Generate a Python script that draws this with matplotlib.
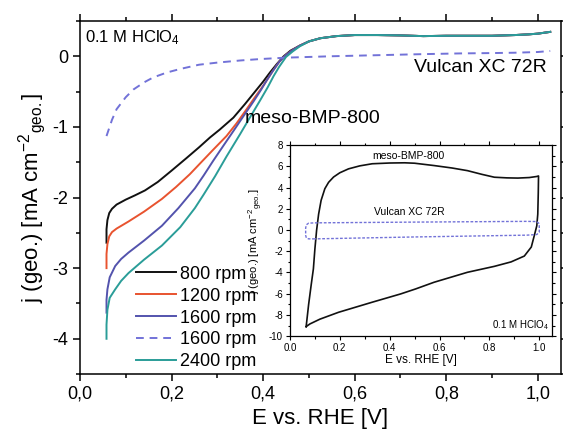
import matplotlib
matplotlib.use("Agg")
import matplotlib.pyplot as plt
from matplotlib.ticker import MultipleLocator, FuncFormatter

plt.rcParams['font.family'] = ['Liberation Sans', 'DejaVu Sans']
plt.rcParams['mathtext.fontset'] = 'custom'
plt.rcParams['mathtext.rm'] = 'Liberation Sans'
plt.rcParams['mathtext.it'] = 'Liberation Sans:italic'
plt.rcParams['axes.unicode_minus'] = False

# ---------------- data (main LSV curves) ----------------
plateau_E = [0.50, 0.525, 0.56, 0.60, 0.65, 0.70, 0.75, 0.80, 0.85, 0.90, 0.95, 0.98, 1.00, 1.027]
plateau_j = [0.21, 0.255, 0.285, 0.30, 0.30, 0.295, 0.285, 0.29, 0.29, 0.29, 0.30, 0.31, 0.32, 0.345]

E_800 = [0.058, 0.058, 0.060, 0.064, 0.070, 0.08, 0.10, 0.12, 0.142, 0.17, 0.20, 0.233, 0.26, 0.284,
         0.305, 0.335, 0.36, 0.38, 0.40, 0.415, 0.43, 0.445, 0.46, 0.48] + plateau_E
j_800 = [-2.64, -2.45, -2.32, -2.22, -2.16, -2.10, -2.03, -1.97, -1.90, -1.78, -1.62, -1.44, -1.29, -1.15,
         -1.04, -0.87, -0.68, -0.52, -0.36, -0.23, -0.11, 0.0, 0.08, 0.15] + plateau_j

E_1200 = [0.058, 0.058, 0.060, 0.064, 0.070, 0.08, 0.106, 0.14, 0.179, 0.21, 0.24, 0.262, 0.29, 0.32,
          0.342, 0.364, 0.38, 0.40, 0.42, 0.435, 0.45, 0.465, 0.48] + plateau_E
j_1200 = [-3.00, -2.80, -2.66, -2.55, -2.49, -2.44, -2.34, -2.20, -2.02, -1.85, -1.67, -1.52, -1.33, -1.13,
          -0.95, -0.75, -0.60, -0.42, -0.22, -0.08, 0.02, 0.09, 0.15] + plateau_j

E_1600 = [0.058, 0.058, 0.060, 0.065, 0.077, 0.09, 0.106, 0.14, 0.179, 0.215, 0.251, 0.27, 0.291, 0.315,
          0.335, 0.36, 0.379, 0.395, 0.408, 0.42, 0.435, 0.45, 0.465, 0.48] + plateau_E
j_1600 = [-3.63, -3.45, -3.30, -3.13, -2.97, -2.87, -2.78, -2.61, -2.40, -2.15, -1.87, -1.69, -1.48, -1.25,
          -1.06, -0.82, -0.64, -0.48, -0.34, -0.22, -0.08, 0.02, 0.09, 0.15] + plateau_j

E_2400 = [0.058, 0.058, 0.060, 0.065, 0.077, 0.09, 0.106, 0.14, 0.179, 0.219, 0.251, 0.27, 0.295, 0.32,
          0.35, 0.37, 0.393, 0.41, 0.423, 0.435, 0.45, 0.465, 0.48] + plateau_E
j_2400 = [-4.00, -3.80, -3.59, -3.42, -3.30, -3.18, -3.07, -2.88, -2.68, -2.42, -2.15, -1.96, -1.70, -1.42,
          -1.10, -0.88, -0.63, -0.44, -0.28, -0.15, -0.01, 0.07, 0.14] + plateau_j

E_vulcan = [0.058, 0.07, 0.08, 0.10, 0.117, 0.14, 0.16, 0.19, 0.219, 0.26, 0.30, 0.35, 0.393, 0.45,
            0.55, 0.65, 0.75, 0.83, 0.90, 0.95, 1.0, 1.027]
j_vulcan = [-1.13, -0.90, -0.75, -0.58, -0.47, -0.37, -0.30, -0.23, -0.18, -0.12, -0.09, -0.06, -0.04, -0.02,
            0.0, 0.015, 0.03, 0.04, 0.045, 0.05, 0.06, 0.075]

labels = ["800 rpm", "1200 rpm", "1600 rpm", "1600 rpm", "2400 rpm"]

# ---------------- data (inset CVs) ----------------
cv_meso_E = [0.065, 0.075, 0.085, 0.094, 0.10, 0.107, 0.115, 0.125, 0.14, 0.155, 0.175, 0.20, 0.235, 0.28, 0.33,
             0.40, 0.46, 0.50, 0.578, 0.65, 0.712, 0.77, 0.82, 0.87, 0.914, 0.96, 0.99, 0.997,
             0.996, 0.994, 0.99, 0.98, 0.968, 0.94, 0.887, 0.82, 0.712, 0.578, 0.504, 0.444, 0.33,
             0.195, 0.12, 0.08, 0.065]
cv_meso_j = [-9.1, -7.0, -5.2, -3.66, -1.8, 0.0, 1.5, 2.8, 3.9, 4.5, 5.0, 5.4, 5.77, 6.05, 6.25,
             6.32, 6.34, 6.3, 6.08, 5.85, 5.6, 5.25, 4.98, 4.92, 4.9, 4.95, 5.05, 5.1,
             3.5, 1.5, 0.4, -0.52, -1.6, -2.45, -3.0, -3.42, -3.98, -4.92, -5.55, -6.02, -6.8,
             -7.75, -8.4, -8.85, -9.1]

cv_vul_E = [0.10, 0.075, 0.066, 0.063, 0.063, 0.066, 0.075, 0.10, 0.50, 0.95, 0.99, 1.0, 1.0, 0.99,
            0.95, 0.50, 0.10]
cv_vul_j = [-0.83, -0.83, -0.75, -0.5, 0.2, 0.5, 0.65, 0.68, 0.75, 0.82, 0.8, 0.6, -0.2, -0.42,
            -0.48, -0.65, -0.83]

col_800 = "#111111"
col_1200 = "#e8532f"
col_1600 = "#5353ad"
col_vul = "#7272d8"
col_2400 = "#2a9d98"

fig = plt.figure(figsize=(5.63, 4.36), dpi=100)
ax = fig.add_axes([0.142, 0.142, 0.854, 0.810])

lw = 1.4
ax.plot(E_800, j_800, color=col_800, lw=lw, label=labels[0])
ax.plot(E_1200, j_1200, color=col_1200, lw=lw, label=labels[1])
ax.plot(E_1600, j_1600, color=col_1600, lw=lw, label=labels[2])
ax.plot(E_vulcan, j_vulcan, color=col_vul, lw=lw, ls=(0, (4, 3)), label=labels[3])
ax.plot(E_2400, j_2400, color=col_2400, lw=lw, label=labels[4])

ax.set_xlim(0, 1.05)
ax.set_ylim(-4.5, 0.5)
ax.xaxis.set_major_locator(MultipleLocator(0.2))
ax.xaxis.set_minor_locator(MultipleLocator(0.1))
ax.yaxis.set_major_locator(MultipleLocator(1))
ax.yaxis.set_minor_locator(MultipleLocator(0.5))
ax.xaxis.set_major_formatter(FuncFormatter(lambda v, p: f"{v:.1f}".replace(".", ",")))
ax.yaxis.set_major_formatter(FuncFormatter(lambda v, p: f"{v:.0f}"))
ax.tick_params(which='both', direction='out', top=True, right=True, width=1.1, labelsize=13)
ax.tick_params(which='major', length=5)
ax.tick_params(which='minor', length=3)
for s in ax.spines.values():
    s.set_linewidth(1.1)

ax.set_xlabel("E vs. RHE [V]", fontsize=16, labelpad=4)
ax.set_ylabel(r"j (geo.) [mA cm$^{-2}$$_{\mathregular{geo.}}$]", fontsize=16, labelpad=3)

ax.text(0.011, 0.27, r"0.1 M HClO$_4$", fontsize=12, ha='left', va='center')
ax.text(1.02, -0.16, "Vulcan XC 72R", fontsize=14, ha='right', va='center')
ax.text(0.36, -0.88, "meso-BMP-800", fontsize=14, ha='left', va='center')

leg = ax.legend(loc='lower left', bbox_to_anchor=(0.09, -0.025), frameon=False, fontsize=13,
                handlelength=2.2, handletextpad=0.25, labelspacing=0.27, borderpad=0.2)

# ---------------- inset ----------------
ins = fig.add_axes([0.515, 0.229, 0.465, 0.438])
ins.set_facecolor('white')
ins.plot(cv_meso_E, cv_meso_j, color="#111111", lw=1.2)
ins.plot(cv_vul_E, cv_vul_j, color=col_vul, lw=1.0, ls=(0, (2, 1.2)))
ins.set_xlim(0, 1.05)
ins.set_ylim(-10, 8)
ins.xaxis.set_major_locator(MultipleLocator(0.2))
ins.xaxis.set_minor_locator(MultipleLocator(0.1))
ins.yaxis.set_major_locator(MultipleLocator(2))
ins.yaxis.set_minor_locator(MultipleLocator(1))
ins.xaxis.set_major_formatter(FuncFormatter(lambda v, p: f"{v:.1f}"))
ins.yaxis.set_major_formatter(FuncFormatter(lambda v, p: f"{v:.0f}"))
ins.tick_params(which='both', direction='out', top=True, right=True, width=0.8, labelsize=7, pad=2)
ins.tick_params(which='major', length=3)
ins.tick_params(which='minor', length=1.8)
for s in ins.spines.values():
    s.set_linewidth(0.9)
ins.set_xlabel("E vs. RHE [V]", fontsize=8.5, labelpad=1)
ins.set_ylabel(r"j (geo.) [mA cm$^{-2}$$_{\mathregular{geo.}}$]", fontsize=8, labelpad=3)
ins.text(0.476, 7.0, "meso-BMP-800", fontsize=7.5, ha='center', va='center')
ins.text(0.48, 1.7, "Vulcan XC 72R", fontsize=7.5, ha='center', va='center')
ins.text(1.036, -9.0, r"0.1 M HClO$_4$", fontsize=7, ha='right', va='center')

fig.savefig("out.png", dpi=100)
